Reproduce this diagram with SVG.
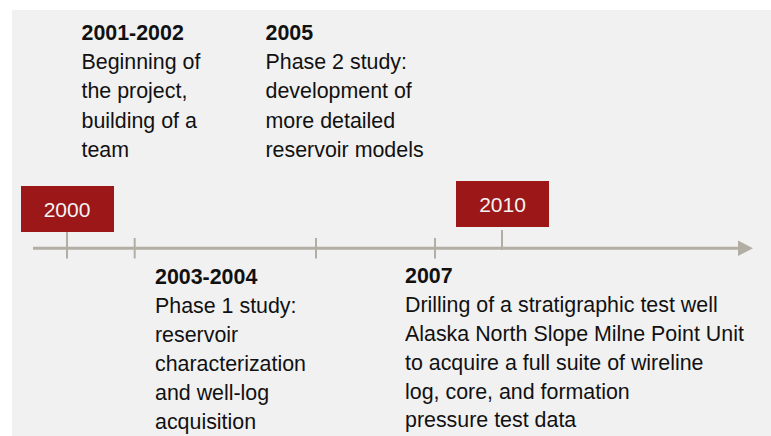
<svg xmlns="http://www.w3.org/2000/svg" width="771" height="436" viewBox="0 0 771 436">
<style>
text{font-family:"Liberation Sans",Arial,sans-serif;font-size:21.4px;fill:#111}
.b{font-weight:bold}
.yr{fill:#f4f4f4;text-anchor:middle;font-size:21px}
.box{fill:#9b1718}
.tick{stroke:#b2aea4;stroke-width:2}
.axis{stroke:#b2aea4;stroke-width:3;fill:none}
</style>
<rect x="12" y="10" width="759" height="426" fill="#f1f1f1"/>
<g id="connectors">
<line class="axis" x1="33" y1="248.3" x2="740" y2="248.3"/>
<polygon points="738,240.5 753,248.3 738,256" fill="#b2aea4"/>
<line class="tick" x1="67" y1="231" x2="67" y2="258.5"/>
<line class="tick" x1="134.7" y1="238" x2="134.7" y2="258.5"/>
<line class="tick" x1="316" y1="238" x2="316" y2="258.5"/>
<line class="tick" x1="435" y1="238" x2="435" y2="258.5"/>
<line class="tick" x1="502" y1="230" x2="502" y2="250"/>
</g>
<g id="y2000">
<rect class="box" x="21" y="186" width="93" height="46"/>
<text class="yr" x="67" y="216.7">2000</text>
</g>
<g id="y2010">
<rect class="box" x="456" y="181" width="93" height="46"/>
<text class="yr" x="502.5" y="211.7">2010</text>
</g>
<g id="e2001">
<text x="81.5" y="40"><tspan class="b">2001-2002</tspan><tspan x="81.5" y="69">Beginning of</tspan><tspan x="81.5" y="98">the project,</tspan><tspan x="81.5" y="127.5">building of a</tspan><tspan x="81.5" y="156.5">team</tspan></text>
</g>
<g id="e2005">
<text x="265.5" y="40"><tspan class="b">2005</tspan><tspan x="265.5" y="69">Phase 2 study:</tspan><tspan x="265.5" y="98">development of</tspan><tspan x="265.5" y="127.5">more detailed</tspan><tspan x="265.5" y="156.5">reservoir models</tspan></text>
</g>
<g id="e2003">
<text x="155" y="284"><tspan class="b">2003-2004</tspan><tspan x="155" y="313">Phase 1 study:</tspan><tspan x="155" y="342">reservoir</tspan><tspan x="155" y="371">characterization</tspan><tspan x="155" y="400">and well-log</tspan><tspan x="155" y="429">acquisition</tspan></text>
</g>
<g id="e2007">
<text x="405" y="283"><tspan class="b">2007</tspan><tspan x="405" y="312">Drilling of a stratigraphic test well</tspan><tspan x="405" y="341">Alaska North Slope Milne Point Unit</tspan><tspan x="405" y="370">to acquire a full suite of wireline</tspan><tspan x="405" y="398.5">log, core, and formation</tspan><tspan x="405" y="427">pressure test data</tspan></text>
</g>
</svg>
